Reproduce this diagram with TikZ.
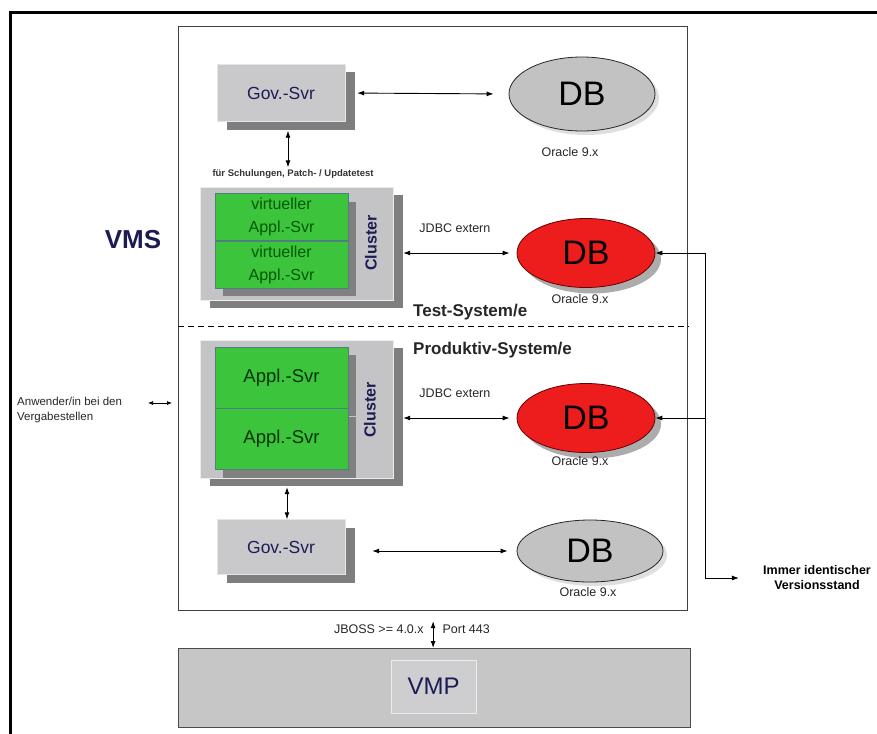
\documentclass[tikz,border=0pt]{standalone}
\usepackage{fontspec}
\setmainfont{Liberation Sans}
\usepackage{xcolor}
\usepackage{tikz}
\usetikzlibrary{shapes, arrows.meta, positioning, shadows}

\definecolor{navy}{HTML}{1C1C55}
\definecolor{boxgray}{HTML}{C9C9CC}
\definecolor{shadegray}{HTML}{7E7E7E}
\definecolor{clusgray}{HTML}{C4C4C6}
\definecolor{applgreen}{HTML}{3DC43D}
\definecolor{dbred}{HTML}{EE1D1D}
\definecolor{dbgray}{HTML}{C2C2C2}
\definecolor{vmpgray}{HTML}{C6C6C6}

\begin{document}
\begin{tikzpicture}[
            x=1pt, y=-1pt,
            >={Latex[length=7pt, width=5pt]},
            link/.style={<->, line width=0.9pt},
            svr/.style={rectangle, fill=boxgray, draw=white!80!gray, minimum width=128pt, minimum height=57pt, text=navy, font=\fontsize{17.5}{20}\selectfont, drop shadow={shadow xshift=10pt, shadow yshift=-8pt, fill=shadegray, opacity=1}},
            clus/.style={rectangle, fill=clusgray, draw=white!85!gray, minimum width=193pt, drop shadow={shadow xshift=10pt, shadow yshift=-8pt, fill=shadegray, opacity=1}},
            appl/.style={rectangle, fill=applgreen, draw=teal!40!gray, line width=0.6pt, minimum width=133pt, align=center, drop shadow={shadow xshift=8pt, shadow yshift=-8pt, fill=gray, opacity=1}},
            clustxt/.style={rotate=90, text=navy, font=\bfseries\fontsize{16}{18}\selectfont},
            db/.style={ellipse, inner sep=0pt, minimum width=146pt, minimum height=74pt, font=\fontsize{34}{36}\selectfont},
            reddb/.style={db, fill=dbred, draw=red!40!black, line width=0.8pt, minimum width=138pt, minimum height=69pt, drop shadow={shadow xshift=6pt, shadow yshift=-6pt, fill=gray!65, opacity=1}},
            graydb/.style={db, fill=dbgray, draw=black!85, line width=0.8pt, drop shadow={shadow xshift=4pt, shadow yshift=-4pt, fill=gray!25, opacity=1}},
            small/.style={font=\fontsize{12.5}{14}\selectfont, text=black!85, inner sep=0pt},
            head/.style={font=\bfseries\fontsize{17}{20}\selectfont, text=black!85, inner sep=0pt}
        ]
        \useasboundingbox (0,0) rectangle (877,733);

        % Frames
        \draw[line width=3pt] (10,735) -- (10,13) -- (880,13);
        \node[draw=black!75, line width=1.2pt, minimum width=509pt, minimum height=584pt, anchor=north west, inner sep=0pt] (vms) at (178,26) {};
        \node[font=\bfseries\fontsize{26}{28}\selectfont, text=navy] (vmslabel) at (133,240) {VMS};

        % Test side
        \node[svr] (gov1) at (281,93) {Gov.-Svr};
        \node[graydb] (db1) at (582,94) {DB};
        \node[small, below=16pt of db1, xshift=-12pt] (ora1) {Oracle 9.x};
        \draw[link, shorten <=12pt, shorten >=15pt] (gov1.east) -- (db1.west);

        \node[font=\bfseries\fontsize{9.5}{11}\selectfont, text=black!80, inner sep=0pt] (schul) at (293,174) {für Schulungen, Patch- / Updatetest};
        \draw[link, shorten <=9pt, shorten >=2pt] ([xshift=7pt]gov1.south) -- ([xshift=7pt]gov1.south |- schul.north);

        \node[clus, minimum height=113pt] (clus1) at (296.5,243.5) {};
        \node[appl, minimum height=47pt, text=green!35!black, font=\fontsize{16}{23}\selectfont] (appl1a) at (281.5,217) {virtueller\\Appl.-Svr};
        \node[appl, minimum height=47pt, text=green!35!black, font=\fontsize{16}{23}\selectfont, below=0pt of appl1a] (appl1b) {virtueller\\Appl.-Svr};
        \node[clustxt] (ctxt1) at (371,243) {Cluster};

        \node[reddb] (db2) at (586,253) {DB};
        \node[small, below=6pt of db2, xshift=-6pt] (ora2) {Oracle 9.x};
        \draw[link, shorten <=10pt, shorten >=7pt] (clus1.east |- db2.west) -- (db2.west) node[midway, above=20pt, small] {JDBC extern};
        \node[head, anchor=west] (test) at (413,312) {Test-System/e};

        \draw[line width=1pt, dash pattern=on 6pt off 4pt] (vms.west |- 0,326) -- (vms.east |- 0,326);

        % Production side
        \node[head, anchor=west] (prod) at (413,350) {Produktiv-System/e};
        \node[clus, minimum height=138pt] (clus2) at (296.5,409) {};
        \node[appl, minimum height=61pt, text=green!20!black, font=\fontsize{18.5}{22}\selectfont] (appl2a) at (281.5,377.5) {Appl.-Svr};
        \node[appl, minimum height=61pt, text=green!20!black, font=\fontsize{18.5}{22}\selectfont, below=0pt of appl2a] (appl2b) {Appl.-Svr};
        \node[clustxt] (ctxt2) at (370,410) {Cluster};

        \node[reddb] (db3) at (586,418) {DB};
        \node[small, below=3pt of db3, xshift=-6pt] (ora3) {Oracle 9.x};
        \draw[link, shorten <=10pt, shorten >=7pt] (clus2.east |- db3.west) -- (db3.west) node[midway, above=20pt, small] {JDBC extern};

        \node[svr, minimum height=55pt] (gov2) at (281,547) {Gov.-Svr};
        \draw[link, shorten >=9pt] ([xshift=6pt]gov2.north) -- ([xshift=6pt]gov2.north |- clus2.south);
        \node[graydb, minimum height=62pt] (db4) at (590,551) {DB};
        \node[small, below=5pt of db4, xshift=-2pt] (ora4) {Oracle 9.x};
        \draw[link, shorten <=27pt, shorten >=9pt] (gov2.east |- db4.west) -- (db4.west);

        % Users on the left
        \node[small, align=left, anchor=north west, font=\fontsize{11.5}{15}\selectfont] (user) at (17,397) {Anwender/in bei den\\Vergabestellen};
        \coordinate (usera) at (148,403);
        \coordinate (userb) at (172,403);
        \draw[link, line width=0.7pt, >={Latex[length=5pt, width=4pt]}] (usera) -- (userb);

        % Version sync on the right
        \node[font=\bfseries\fontsize{12.5}{15}\selectfont, align=center, inner sep=0pt] (ident) at (817,578) {Immer identischer\\Versionsstand};
        \coordinate (bus) at (705,0);
        \draw[->, line width=0.9pt] (bus |- db2.east) -- (db2.east);
        \draw[->, line width=0.9pt] (bus |- db3.east) -- (db3.east);
        \draw[->, line width=0.9pt] (bus |- db2.east) -- (bus |- ident.west) -- ([xshift=-24pt]ident.west);

        % VMP
        \node[draw=black!70, fill=vmpgray, line width=1pt, minimum width=512pt, minimum height=79pt, anchor=north west, inner sep=0pt] (vmpbox) at (178,648) {};
        \node[fill=boxgray!90!white, draw=white!85!gray, minimum width=85pt, minimum height=53pt, text=navy, font=\fontsize{24}{26}\selectfont] (vmp) at (433.5,686.5) {VMP};
        \draw[link, shorten <=10pt] (vms.south) -- (vms.south |- vmpbox.north)
            node[midway, left=9pt, small] {JBOSS >= 4.0.x}
            node[midway, right=9pt, small] {Port 443};

    \end{tikzpicture}
\end{document}
